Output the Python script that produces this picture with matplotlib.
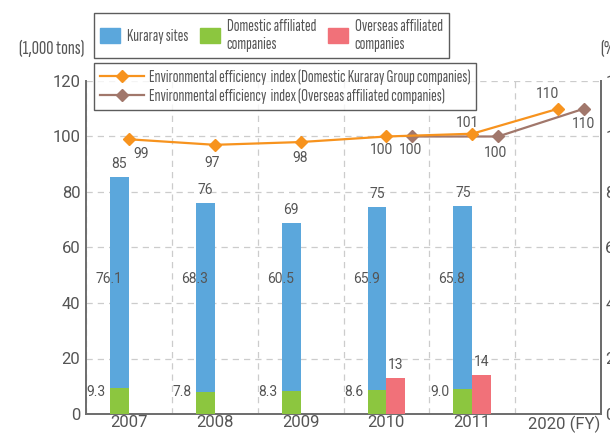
import numpy as np
import matplotlib.pyplot as plt
from matplotlib.patches import Patch
from matplotlib.lines import Line2D

plt.rcParams['font.family'] = ['Roboto', 'DejaVu Sans']
narrow = ['Sofia Sans Extra Condensed', 'Roboto Condensed', 'DejaVu Sans']

# %% data
years = ['2007', '2008', '2009', '2010', '2011', '2020 (FY)']
kuraray = [76.1, 68.3, 60.5, 65.9, 65.8]
domestic = [9.3, 7.8, 8.3, 8.6, 9.0]
totals = [85, 76, 69, 75, 75]
overseas_x = [3, 4]
overseas = [13, 14]

idx_dom_x = [0, 1, 2, 3, 4, 5]
idx_dom = [99, 97, 98, 100, 101, 110]
idx_ovs_x = [3, 4, 5]
idx_ovs = [100, 100, 110]

c_blue = '#5ba7dc'
c_green = '#8cc63f'
c_red = '#f17179'
c_orange = '#f7931e'
c_brown = '#a1776b'
c_text = '#555555'
c_axis = '#6d6d6d'

# %%
fig = plt.figure(figsize=(6.10, 4.33), dpi=100)
ax = fig.add_axes([86/610, 1-414/433, 515/610, 333/433])

x = np.arange(len(kuraray))
w = 0.22
ax.bar(x - w/2, domestic, w, color=c_green, zorder=3)
ax.bar(x - w/2, kuraray, w, bottom=domestic, color=c_blue, zorder=3)
ax.bar(np.array(overseas_x) + w/2, overseas, w, color=c_red, zorder=3)

for i in range(len(kuraray)):
    ax.text(i - w/2, kuraray[i] + domestic[i] + 2.2, str(totals[i]),
            ha='center', va='bottom', fontsize=10, color=c_text, zorder=5)
    ax.text(i - 0.08, 48.6, '%.1f' % kuraray[i], ha='right', va='center',
            fontsize=10, color=c_text, zorder=5)
    ax.text(i - w - 0.05, 8.0, '%.1f' % domestic[i], ha='right', va='center',
            fontsize=10, color=c_text, zorder=5)
for xo, v in zip(overseas_x, overseas):
    ax.text(xo + w/2, v + 2.2, str(v), ha='center', va='bottom',
            fontsize=10, color=c_text, zorder=5)

bx = np.array(idx_ovs_x) + 0.3
ax.plot(bx, idx_ovs, color=c_brown, lw=1.6, marker='D', ms=6.5, zorder=4)
ax.plot(idx_dom_x, idx_dom, color=c_orange, lw=1.6, marker='D', ms=6.5, zorder=4)

# index labels
dom_off = [(0.14, -5.3), (-0.03, -6.5), (0.0, -5.8), (-0.06, -5.0), (-0.05, 4.0), (-0.12, 5.3)]
for xi, v, (dx, dy) in zip(idx_dom_x, idx_dom, dom_off):
    ax.text(xi + dx, v + dy, str(v), ha='center', va='center',
            fontsize=10, color=c_text, zorder=5)
ovs_off = [(-0.02, -5.0), (-0.03, -6.0), (0.0, -5.5)]
for xi, v, (dx, dy) in zip(bx, idx_ovs, ovs_off):
    ax.text(xi + dx, v + dy, str(v), ha='center', va='center',
            fontsize=10, color=c_text, zorder=5)

ax.set_xlim(-0.5, 5.5)
ax.set_ylim(0, 120)
ax.set_yticks(range(0, 121, 20))
# last label sits a little right of its slot, as in the original
ax.set_xticks([0, 1, 2, 3, 4, 5.07])
ax.set_xticklabels(years)
ax.set_xticks(np.arange(-0.5, 5.6, 1), minor=True)
ax.tick_params(axis='both', which='both', length=0, labelsize=12, colors=c_text)
ax.tick_params(axis='x', pad=1)
ax.tick_params(axis='y', pad=4)
ax.grid(True, axis='y', ls=(0, (5, 4)), color='#cccccc', lw=0.9, zorder=0)
ax.grid(True, axis='x', which='minor', ls=(0, (5, 4)), color='#cccccc', lw=0.9, zorder=0)
ax.grid(False, axis='x', which='major')
ax.spines['top'].set_visible(False)
for s in ['left', 'bottom', 'right']:
    ax.spines[s].set_color(c_axis)
    ax.spines[s].set_linewidth(1.4)

ax2 = ax.twinx()
ax2.set_ylim(0, 120)
ax2.set_yticks(range(0, 121, 20))
ax2.tick_params(axis='y', length=0, labelsize=12, colors=c_text, pad=3)
for s in ['top', 'left', 'bottom']:
    ax2.spines[s].set_visible(False)
ax2.spines['right'].set_color(c_axis)
ax2.spines['right'].set_linewidth(1.4)

fig.text(19/610, 1-49/433, '(1,000 tons)', ha='left', va='center',
         fontsize=14.5, color=c_text, family=narrow)
fig.text(600/610, 1-49/433, '(%)', ha='left', va='center',
         fontsize=14.5, color=c_text, family=narrow)

h1 = [Patch(color=c_blue), Patch(color=c_green), Patch(color=c_red)]
l1 = ['Kuraray sites', 'Domestic affiliated\ncompanies', 'Overseas affiliated\ncompanies']
leg1 = fig.legend(h1, l1, loc='upper left', bbox_to_anchor=(94/610, 1-12.7/433),
                  ncol=3, frameon=True, fancybox=False, edgecolor='#333333',
                  prop={'family': narrow, 'size': 12.3}, labelcolor=c_text,
                  handlelength=1.15, handleheight=0.9, handletextpad=0.4,
                  columnspacing=0.7, borderpad=0.38, labelspacing=0.1,
                  borderaxespad=0)
leg1.get_frame().set_linewidth(1.0)

h2 = [Line2D([], [], color=c_orange, lw=1.6, marker='D', ms=6.5),
      Line2D([], [], color=c_brown, lw=1.6, marker='D', ms=6.5)]
l2 = ['Environmental efficiency  index (Domestic Kuraray Group companies)',
      'Environmental efficiency  index (Overseas affiliated companies)']
leg2 = fig.legend(h2, l2, loc='upper left', bbox_to_anchor=(94/610, 1-63.3/433),
                  frameon=True, fancybox=False, edgecolor='#333333',
                  prop={'family': narrow, 'size': 12.3}, labelcolor=c_text,
                  handlelength=2.6, handletextpad=0.3, labelspacing=0.2,
                  borderpad=0.33, borderaxespad=0)
leg2.get_frame().set_linewidth(1.0)
leg2.set_zorder(10)

fig.savefig('out.png', dpi=100)
